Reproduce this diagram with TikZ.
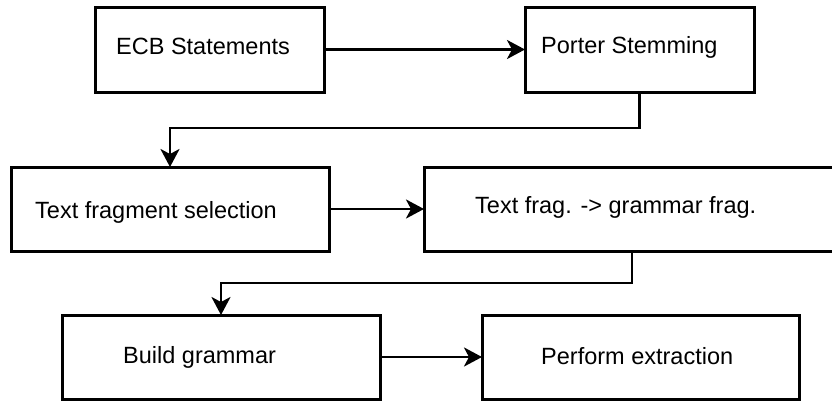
\documentclass[tikz,border=0pt]{standalone}
\usepackage{fontspec}
\setmainfont{Liberation Sans}
\usetikzlibrary{arrows.meta}
\begin{document}
\begin{tikzpicture}[x=1pt,y=-1pt,
  box/.style={draw=black, line width=3pt, rectangle, inner sep=0pt, outer sep=0pt, fill=white},
  lbl/.style={anchor=base west, inner sep=0pt, font=\fontsize{23.5}{28}\selectfont},
  arr/.style={draw=black, line width=2.8pt, -{Stealth[length=18pt, width=19pt, inset=5pt]}}]
\useasboundingbox[fill=white] (0,0) rectangle (832,400);
\node[box, minimum width=229pt, minimum height=85pt] (b1) at (209.5,49.5) {};
\node[box, minimum width=229pt, minimum height=85pt] (b2) at (639.5,49.5) {};
\node[box, minimum width=318pt, minimum height=84pt] (b3) at (170,209) {};
\node[box, minimum width=416pt, minimum height=84pt] (b4) at (632,209) {};
\node[box, minimum width=318pt, minimum height=84pt] (b5) at (221,357) {};
\node[box, minimum width=317pt, minimum height=84pt] (b6) at (640.5,357) {};
\node[lbl] (t1) at (116,54) {ECB Statements};
\node[lbl] (t2) at (541,53) {Porter Stemming};
\node[lbl] (t3) at (35,218) {Text fragment selection};
\node[lbl] (t4) at (475,213) {Text frag. -> grammar frag.};
\node[lbl] (t5) at (123,363) {Build grammar};
\node[lbl] (t6) at (541,364) {Perform extraction};
\draw[arr] (b1.east) -- (b2.west);
\draw[arr] (b2.south) -- ++(0,36) -| (b3.north);
\draw[arr] (b3.east) -- (b4.west);
\draw[arr] (b4.south) -- ++(0,32) -| (b5.north);
\draw[arr] (b5.east) -- (b6.west);
\end{tikzpicture}
\end{document}
